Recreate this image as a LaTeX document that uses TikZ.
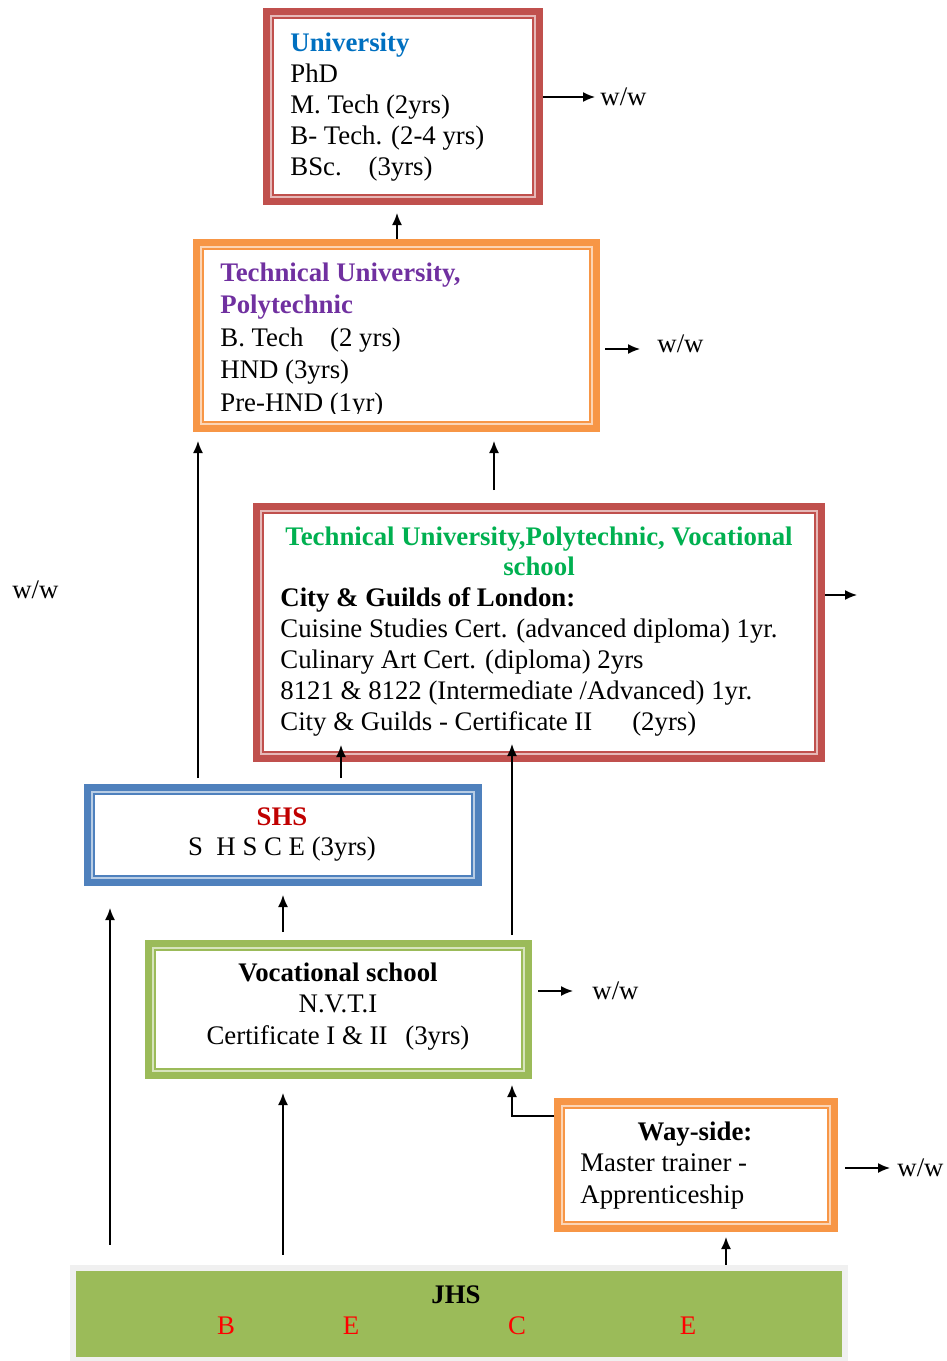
\documentclass[tikz,border=0pt]{standalone}
\usepackage{fontspec}
\setmainfont{Liberation Serif}
\usetikzlibrary{arrows.meta,calc}
\definecolor{bred}{HTML}{C0504D}
\definecolor{borange}{HTML}{F79646}
\definecolor{bblue}{HTML}{4F81BD}
\definecolor{bgreen}{HTML}{9BBB59}
\definecolor{ublue}{HTML}{0070C0}
\definecolor{tpurple}{HTML}{7030A0}
\definecolor{tgreen}{HTML}{00B050}
\definecolor{shsred}{HTML}{C00000}
\definecolor{bece}{HTML}{FF0000}
\begin{document}
\begin{tikzpicture}[x=0.5pt,y=-0.5pt,
  frame/.style={rectangle,inner sep=0pt,outer sep=0pt},
  txt/.style={inner sep=0pt,font=\fontsize{13.4}{15.5}\selectfont},
  lbl/.style={inner sep=0pt,anchor=west,font=\fontsize{13.4}{15.5}\selectfont},
  arr/.style={-{Latex[length=6pt,width=5pt]},line width=0.75pt}]
\useasboundingbox (0,0) rectangle (947,1361);

% boxes
\node[frame,minimum width=140pt,minimum height=98.5pt] (uni) at (403,106.5) {};
\node[frame,minimum width=203.5pt,minimum height=96.5pt] (tech) at (396.5,335.5) {};
\node[frame,minimum width=286pt,minimum height=129.5pt] (big) at (539,632.5) {};
\node[frame,minimum width=199pt,minimum height=51pt] (shs) at (283,835) {};
\node[frame,minimum width=193.5pt,minimum height=69.5pt] (voc) at (338.5,1009.5) {};
\node[frame,minimum width=142pt,minimum height=67pt] (way) at (696,1165) {};
\node[rectangle,fill=bgreen,draw=gray!12,line width=3pt,inner sep=0pt,
      minimum width=386pt,minimum height=46pt] (jhs) at (459,1313.5) {};

\foreach \n/\c in {uni/bred,tech/borange,big/bred,shs/bblue,voc/bgreen,way/borange}{
  \draw[\c,line width=3.5pt] ([shift={(1.75pt,-1.75pt)}]\n.north west) rectangle ([shift={(-1.75pt,1.75pt)}]\n.south east);
  \draw[\c!40,line width=1.2pt] ([shift={(4.1pt,-4.1pt)}]\n.north west) rectangle ([shift={(-4.1pt,4.1pt)}]\n.south east);
  \draw[\c,line width=1pt] ([shift={(5.2pt,-5.2pt)}]\n.north west) rectangle ([shift={(-5.2pt,5.2pt)}]\n.south east);
}

% texts (base anchor = baseline of the last line)
\node[txt,anchor=base west,align=left] (unitx) at (290,175)
  {\textcolor{ublue}{\bfseries University}\\PhD\\M. Tech (2yrs)\\B- Tech. (2-4 yrs)\\BSc.\quad(3yrs)};
\begin{scope}
\clip (190,230) rectangle (600,413);
\node[txt,anchor=base west,align=left,font=\fontsize{13.4}{16.2}\selectfont] (techtx) at (220,411)
  {\textcolor{tpurple}{\bfseries Technical University,}\\\textcolor{tpurple}{\bfseries Polytechnic}\\B. Tech\quad(2 yrs)\\HND (3yrs)\\Pre-HND (1yr)};
\end{scope}
\node[txt,anchor=base,align=center,font=\fontsize{13.4}{15}\selectfont\bfseries,text=tgreen] (bigti) at (539,575)
  {Technical University,Polytechnic, Vocational\\school};
\node[txt,anchor=base west,align=left,font=\fontsize{13.4}{15.4}\selectfont] (bigtx) at (280,730)
  {{\bfseries City \& Guilds of London:}\\Cuisine Studies Cert. (advanced diploma) 1yr.\\Culinary Art Cert. (diploma) 2yrs\\8121 \& 8122 (Intermediate /Advanced) 1yr.\\City \& Guilds - Certificate II\hspace{20pt}(2yrs)};
\node[txt,anchor=base,align=center,font=\fontsize{13.4}{15}\selectfont] (shstx) at (282,855)
  {\textcolor{shsred}{\bfseries SHS}\\S\enspace H S C E (3yrs)};
\node[txt,anchor=base,align=center,font=\fontsize{13.4}{15.7}\selectfont] (voctx) at (338,1044)
  {{\bfseries Vocational school}\\N.V.T.I\\Certificate I \& II\hspace{9pt}(3yrs)};
\node[txt,anchor=base,font=\fontsize{13.4}{16}\selectfont\bfseries] (wayti) at (695,1140) {Way-side:};
\node[txt,anchor=base west,align=left,font=\fontsize{13.4}{16}\selectfont] (waytx) at (580,1203)
  {Master trainer -\\Apprenticeship};
\node[txt,anchor=base,font=\fontsize{13.4}{15.5}\selectfont\bfseries] (jhstx) at (456,1303) {JHS};
\node[txt,anchor=base,text=bece] (lb) at (226,1334) {B};
\node[txt,anchor=base,text=bece] (le1) at (351,1334) {E};
\node[txt,anchor=base,text=bece] (lc) at (517,1334) {C};
\node[txt,anchor=base,text=bece] (le2) at (688,1334) {E};

% w/w labels
\node[lbl] (ww1) at (600,97) {w/w};
\node[lbl] (ww2) at (657,344) {w/w};
\node[lbl] (wwl) at (12,590) {w/w};
\node[lbl] (ww3) at (592,991) {w/w};
\node[lbl] (ww4) at (897,1168) {w/w};
\coordinate (bigout) at (857,595);

% x positions
\coordinate (c110) at (110,0);
\coordinate (c198) at (198,0);
\coordinate (c283) at (283,0);
\coordinate (c341) at (341,0);
\coordinate (c397) at (397,0);
\coordinate (c494) at (494,0);
\coordinate (c512) at (512,0);
\coordinate (c726) at (726,0);
\coordinate (r1116) at (0,1116);
\coordinate (r349) at (0,349);

% horizontal arrows
\draw[arr] (uni.east |- ww1.west) -- ([xshift=-2.5pt]ww1.west);
\draw[arr] ([xshift=2.5pt]tech.east |- r349) -- ([xshift=-8.5pt]ww2.west |- r349);
\draw[arr] (big.east |- bigout) -- (bigout);
\draw[arr] ([xshift=3pt]voc.east |- ww3.west) -- ([xshift=-9.5pt]ww3.west);
\draw[arr] ([xshift=3.5pt]way.east |- ww4.west) -- ([xshift=-3.5pt]ww4.west);

% vertical arrows
\draw[arr] (tech.north -| c397) -- ([yshift=-4pt]uni.south -| c397);
\draw[arr] ([yshift=6.5pt]big.north -| c494) -- ([yshift=-4.5pt]tech.south -| c494);
\draw[arr] ([yshift=3pt]shs.north -| c198) -- ([yshift=-4.5pt]tech.south -| c198);
\draw[arr] ([yshift=3pt]shs.north -| c341) -- ([yshift=8.5pt]big.south -| c341);
\draw[arr] ([yshift=2.5pt]voc.north -| c512) -- ([yshift=9pt]big.south -| c512);
\draw[arr] ([yshift=4pt]voc.north -| c283) -- ([yshift=-4.5pt]shs.south -| c283);
\draw[arr] ([yshift=10pt]jhs.north -| c110) -- ([yshift=-11pt]shs.south -| c110);
\draw[arr] ([yshift=5pt]jhs.north -| c283) -- ([yshift=-7pt]voc.south -| c283);
\draw[arr] (jhs.north -| c726) -- ([yshift=-2.5pt]way.south -| c726);
\draw[arr] (way.west |- r1116) -| ([yshift=-3pt]voc.south -| c512);
\end{tikzpicture}
\end{document}
